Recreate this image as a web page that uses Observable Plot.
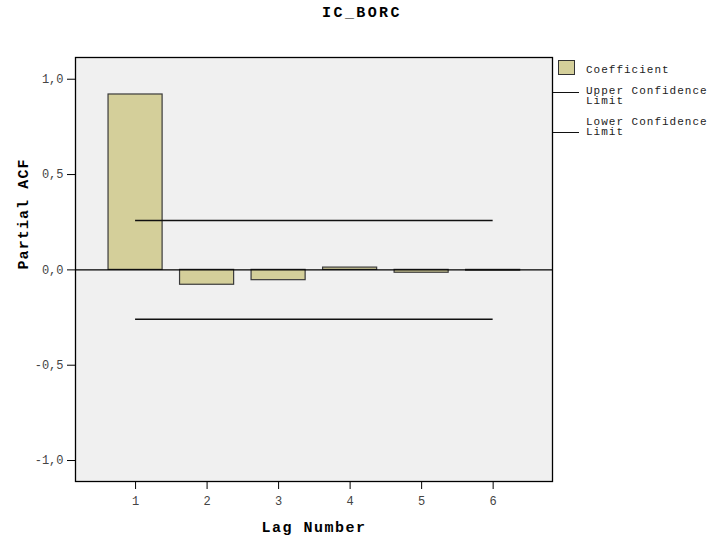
<!DOCTYPE html>
<html><head><meta charset="utf-8">
<script src="https://cdn.jsdelivr.net/npm/d3@7"></script>
<script src="https://cdn.jsdelivr.net/npm/@observablehq/plot@0.6"></script>
<style>
body{margin:0;background:#fff;}
#wrap{position:relative;width:724px;height:542px;font-family:"Liberation Mono","Courier New",monospace;color:#222;}
#wrap svg{position:absolute;left:0;top:0;}
.title{position:absolute;left:0;top:6px;width:724px;text-align:center;font-weight:bold;font-size:15px;line-height:15px;letter-spacing:2.4px;color:#000;}
.sw{position:absolute;left:558px;top:60px;width:17px;height:15px;box-sizing:border-box;border:1px solid #333;background:#d4cf9a;}
.lt{position:absolute;left:586px;font-size:11px;line-height:10.5px;letter-spacing:1px;white-space:pre;color:#222;}
.ln{position:absolute;left:553px;width:26px;height:1.3px;background:#111;}
</style></head><body><div id="wrap"></div><script>
const lags = [1, 2, 3, 4, 5, 6];
const pacf = [0.920, -0.078, -0.054, 0.012, -0.015, -0.004];
const upperLimit = [0.259];
const lowerLimit = [-0.259];
const yTicks = [-1, -0.5, 0, 0.5, 1];
const title = "IC_BORC";
const xLabel = "Lag Number";
const yLabel = "Partial ACF";
const legendLabels = ["Coefficient", "Upper Confidence\nLimit", "Lower Confidence\nLimit"];

const data = lags.map((lag, i) => ({lag, value: pacf[i]}));
const halfWidth = 0.378;
const fmt = d => d.toFixed(1).replace(".", ",");
const font = '"Liberation Mono","Courier New",monospace';

const chart = Plot.plot({
  width: 724, height: 542,
  marginLeft: 75, marginRight: 172, marginTop: 57, marginBottom: 61,
  style: {fontFamily: font, fontSize: "12px", background: "transparent", color: "#000"},
  x: {domain: [0.16, 6.83]},
  y: {domain: [-1.11, 1.114]},
  marks: [
    Plot.frame({fill: "#f0f0f0"}),
    Plot.rectY(data, {x1: d => d.lag - halfWidth, x2: d => d.lag + halfWidth, y: "value",
      fill: "#d4cf9a", stroke: "#3a3a3a", strokeWidth: 1.2}),
    Plot.ruleY(upperLimit, {x1: lags[0], x2: lags[lags.length - 1], stroke: "#111", strokeWidth: 1.3}),
    Plot.ruleY(lowerLimit, {x1: lags[0], x2: lags[lags.length - 1], stroke: "#111", strokeWidth: 1.3}),
    Plot.ruleY([0], {stroke: "#000", strokeWidth: 1.3}),
    Plot.axisY({ticks: yTicks, tickFormat: fmt, tickSize: 8, tickPadding: 4, label: null, stroke: "#000", fill: "#444"}),
    Plot.axisX({ticks: lags, tickFormat: d => String(d), tickSize: 8, tickPadding: 7, label: null, stroke: "#000", fill: "#444"}),
    Plot.text([xLabel], {text: d => d, frameAnchor: "bottom", dy: 46, lineAnchor: "middle",
      fontWeight: "bold", fontSize: 15, fill: "#000"}),
    Plot.text([yLabel], {text: d => d, frameAnchor: "left", dx: -52, rotate: -90, lineAnchor: "middle",
      fontWeight: "bold", fontSize: 15, fill: "#000"}),
    Plot.frame({stroke: "#000", strokeWidth: 1.3})
  ]
});

d3.select(chart).selectAll("text").each(function() {
  const t = this.textContent;
  if (t === xLabel) d3.select(this).attr("letter-spacing", "1.5px");
  if (t === yLabel) d3.select(this).attr("letter-spacing", "1.1px");
});

const wrap = document.getElementById("wrap");
wrap.appendChild(chart);

const tdiv = document.createElement("div");
tdiv.className = "title";
tdiv.textContent = title;
wrap.appendChild(tdiv);

const sw = document.createElement("div");
sw.className = "sw";
wrap.appendChild(sw);

const tops = [64.5, 85.5, 116.5];
legendLabels.forEach((lab, i) => {
  const d = document.createElement("div");
  d.className = "lt";
  d.style.top = tops[i] + "px";
  d.textContent = lab;
  wrap.appendChild(d);
});
[91.5, 131.5].forEach(t => {
  const l = document.createElement("div");
  l.className = "ln";
  l.style.top = t + "px";
  wrap.appendChild(l);
});
</script></body></html>
